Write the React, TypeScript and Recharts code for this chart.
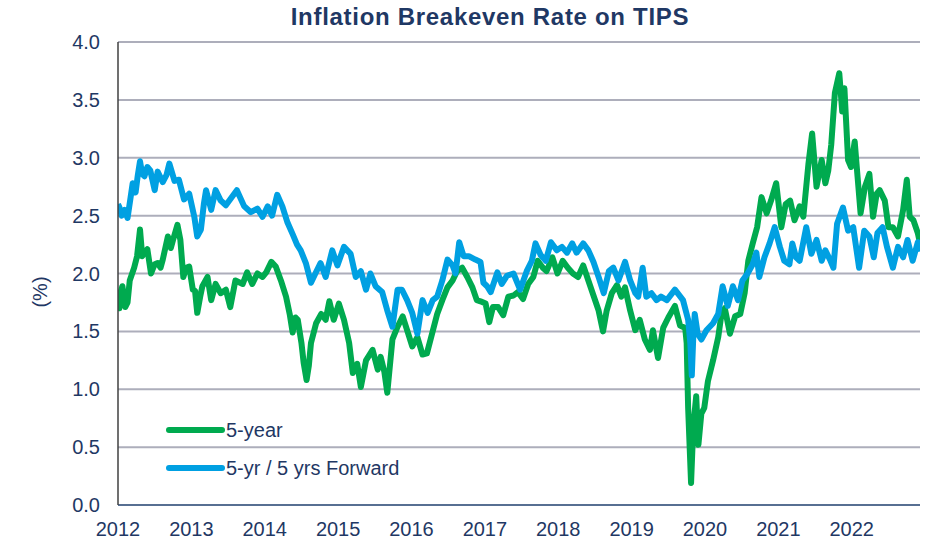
import { LineChart, Line, XAxis, YAxis, CartesianGrid, Legend } from 'recharts';

// [decimal year, %]
const fiveYear: [number, number][] = [
  [2012.0, 1.8], [2012.02, 1.7], [2012.04, 1.85], [2012.06, 1.89], [2012.1, 1.71], [2012.13, 1.75],
  [2012.16, 1.94], [2012.22, 2.05], [2012.26, 2.15], [2012.3, 2.38], [2012.33, 2.15], [2012.36, 2.18],
  [2012.4, 2.21], [2012.45, 2.0], [2012.5, 2.08], [2012.54, 2.09], [2012.58, 2.05], [2012.61, 2.12],
  [2012.68, 2.32], [2012.72, 2.22], [2012.75, 2.29], [2012.81, 2.42], [2012.85, 2.29], [2012.89, 1.97],
  [2012.93, 2.05], [2012.97, 2.06], [2013.02, 1.86], [2013.05, 1.85], [2013.08, 1.66], [2013.12, 1.8],
  [2013.15, 1.89], [2013.22, 1.97], [2013.27, 1.77], [2013.33, 1.91], [2013.4, 1.83], [2013.47, 1.86],
  [2013.53, 1.71], [2013.6, 1.94], [2013.7, 1.91], [2013.76, 2.01], [2013.83, 1.91], [2013.9, 2.0],
  [2013.97, 1.97], [2014.02, 2.01], [2014.09, 2.1], [2014.15, 2.06], [2014.22, 1.94], [2014.29, 1.8],
  [2014.34, 1.65], [2014.38, 1.49], [2014.42, 1.62], [2014.45, 1.6], [2014.5, 1.4], [2014.53, 1.23],
  [2014.57, 1.08], [2014.6, 1.2], [2014.63, 1.4], [2014.7, 1.57], [2014.77, 1.65], [2014.83, 1.6],
  [2014.88, 1.76], [2014.94, 1.6], [2015.01, 1.74], [2015.08, 1.6], [2015.15, 1.4], [2015.2, 1.14],
  [2015.26, 1.22], [2015.31, 1.02], [2015.38, 1.25], [2015.47, 1.34], [2015.54, 1.17], [2015.58, 1.28],
  [2015.63, 1.15], [2015.67, 0.97], [2015.74, 1.43], [2015.81, 1.54], [2015.88, 1.63], [2015.94, 1.51],
  [2016.01, 1.37], [2016.08, 1.45], [2016.15, 1.3], [2016.21, 1.31], [2016.28, 1.48], [2016.35, 1.65],
  [2016.42, 1.77], [2016.49, 1.88], [2016.56, 1.94], [2016.62, 2.02], [2016.69, 2.05], [2016.76, 1.97],
  [2016.83, 1.88], [2016.89, 1.77], [2016.94, 1.76], [2017.01, 1.74], [2017.06, 1.58], [2017.11, 1.71],
  [2017.18, 1.71], [2017.25, 1.64], [2017.32, 1.8], [2017.39, 1.81], [2017.45, 1.84], [2017.52, 1.78],
  [2017.59, 1.91], [2017.66, 1.97], [2017.72, 2.11], [2017.79, 2.05], [2017.84, 2.02], [2017.92, 2.14],
  [2017.99, 2.0], [2018.06, 2.11], [2018.13, 2.05], [2018.2, 2.0], [2018.27, 1.97], [2018.34, 2.07],
  [2018.41, 1.94], [2018.48, 1.81], [2018.55, 1.68], [2018.61, 1.5], [2018.66, 1.68], [2018.73, 1.83],
  [2018.8, 1.9], [2018.86, 1.8], [2018.91, 1.88], [2018.98, 1.68], [2019.05, 1.51], [2019.11, 1.6],
  [2019.18, 1.43], [2019.25, 1.34], [2019.29, 1.51], [2019.36, 1.27], [2019.43, 1.53], [2019.5, 1.62],
  [2019.59, 1.72], [2019.66, 1.55], [2019.73, 1.53], [2019.75, 1.4], [2019.77, 0.84], [2019.81, 0.19],
  [2019.84, 0.68], [2019.88, 0.94], [2019.91, 0.52], [2019.95, 0.79], [2019.99, 0.84], [2020.04, 1.07],
  [2020.11, 1.25], [2020.18, 1.45], [2020.22, 1.63], [2020.27, 1.7], [2020.34, 1.48], [2020.41, 1.63],
  [2020.48, 1.65], [2020.54, 1.83], [2020.59, 2.11], [2020.65, 2.26], [2020.71, 2.4], [2020.77, 2.66],
  [2020.84, 2.52], [2020.9, 2.63], [2020.97, 2.78], [2021.04, 2.4], [2021.1, 2.6], [2021.16, 2.63],
  [2021.22, 2.46], [2021.29, 2.58], [2021.34, 2.49], [2021.41, 2.95], [2021.46, 3.21], [2021.52, 2.75],
  [2021.59, 2.98], [2021.64, 2.78], [2021.68, 2.89], [2021.72, 3.11], [2021.77, 3.56], [2021.83, 3.73],
  [2021.87, 3.4], [2021.9, 3.6], [2021.95, 2.98], [2021.99, 2.92], [2022.04, 3.14], [2022.08, 2.83],
  [2022.12, 2.52], [2022.18, 2.75], [2022.24, 2.86], [2022.29, 2.49], [2022.34, 2.69], [2022.38, 2.72],
  [2022.45, 2.63], [2022.5, 2.4], [2022.56, 2.4], [2022.63, 2.32], [2022.7, 2.55], [2022.75, 2.81],
  [2022.79, 2.49], [2022.84, 2.46], [2022.9, 2.35], [2022.93, 2.26],
];

const fiveYrForward: [number, number][] = [
  [2012.0, 2.6], [2012.02, 2.57], [2012.05, 2.5], [2012.09, 2.55], [2012.13, 2.48], [2012.17, 2.65],
  [2012.2, 2.78], [2012.24, 2.7], [2012.27, 2.85], [2012.3, 2.97], [2012.33, 2.86], [2012.36, 2.84],
  [2012.4, 2.92], [2012.44, 2.89], [2012.5, 2.72], [2012.54, 2.88], [2012.61, 2.79], [2012.66, 2.85],
  [2012.7, 2.95], [2012.77, 2.8], [2012.83, 2.81], [2012.9, 2.64], [2012.97, 2.69], [2013.04, 2.49],
  [2013.08, 2.32], [2013.13, 2.38], [2013.17, 2.6], [2013.2, 2.72], [2013.27, 2.55], [2013.33, 2.72],
  [2013.4, 2.63], [2013.47, 2.59], [2013.54, 2.65], [2013.62, 2.72], [2013.72, 2.58], [2013.81, 2.53],
  [2013.9, 2.56], [2013.97, 2.49], [2014.04, 2.58], [2014.1, 2.5], [2014.17, 2.68], [2014.24, 2.58],
  [2014.31, 2.44], [2014.38, 2.34], [2014.44, 2.25], [2014.49, 2.2], [2014.56, 2.09], [2014.63, 1.92],
  [2014.69, 2.0], [2014.76, 2.09], [2014.83, 1.97], [2014.92, 2.2], [2014.99, 2.07], [2015.08, 2.23],
  [2015.17, 2.17], [2015.24, 1.97], [2015.31, 2.02], [2015.38, 1.86], [2015.44, 2.0], [2015.51, 1.89],
  [2015.6, 1.84], [2015.67, 1.68], [2015.74, 1.54], [2015.81, 1.86], [2015.87, 1.86], [2015.94, 1.77],
  [2016.01, 1.66], [2016.08, 1.48], [2016.15, 1.77], [2016.22, 1.66], [2016.29, 1.77], [2016.35, 1.8],
  [2016.42, 1.94], [2016.49, 2.12], [2016.56, 2.07], [2016.6, 2.0], [2016.65, 2.27], [2016.71, 2.15],
  [2016.78, 2.15], [2016.87, 2.12], [2016.94, 2.1], [2016.98, 1.92], [2017.03, 1.89], [2017.08, 1.84],
  [2017.17, 2.01], [2017.23, 1.91], [2017.3, 1.98], [2017.39, 2.0], [2017.48, 1.86], [2017.57, 2.02],
  [2017.64, 2.11], [2017.69, 2.26], [2017.76, 2.16], [2017.83, 2.11], [2017.9, 2.27], [2017.98, 2.2],
  [2018.05, 2.23], [2018.12, 2.18], [2018.19, 2.26], [2018.25, 2.18], [2018.34, 2.26], [2018.41, 2.2],
  [2018.48, 2.1], [2018.55, 1.97], [2018.62, 1.83], [2018.69, 2.02], [2018.75, 2.05], [2018.82, 1.94],
  [2018.91, 2.1], [2018.98, 1.94], [2019.05, 1.83], [2019.09, 1.8], [2019.15, 2.05], [2019.2, 1.8],
  [2019.27, 1.83], [2019.34, 1.77], [2019.4, 1.8], [2019.48, 1.77], [2019.59, 1.86], [2019.7, 1.77],
  [2019.77, 1.6], [2019.8, 1.4], [2019.82, 1.12], [2019.84, 1.45], [2019.86, 1.65], [2019.9, 1.48],
  [2019.95, 1.43], [2020.02, 1.51], [2020.11, 1.57], [2020.18, 1.65], [2020.24, 1.89], [2020.31, 1.72],
  [2020.38, 1.89], [2020.45, 1.77], [2020.51, 1.94], [2020.58, 2.0], [2020.65, 2.08], [2020.7, 2.18],
  [2020.74, 1.97], [2020.81, 2.14], [2020.88, 2.26], [2020.95, 2.4], [2021.02, 2.23], [2021.08, 2.11],
  [2021.15, 2.08], [2021.19, 2.26], [2021.24, 2.14], [2021.29, 2.11], [2021.38, 2.4], [2021.45, 2.17],
  [2021.52, 2.29], [2021.59, 2.11], [2021.64, 2.2], [2021.71, 2.11], [2021.75, 2.05], [2021.8, 2.43],
  [2021.88, 2.57], [2021.95, 2.37], [2022.02, 2.4], [2022.1, 2.05], [2022.17, 2.37], [2022.24, 2.32],
  [2022.3, 2.14], [2022.35, 2.35], [2022.42, 2.4], [2022.48, 2.23], [2022.56, 2.05], [2022.63, 2.23],
  [2022.7, 2.14], [2022.76, 2.29], [2022.83, 2.11], [2022.9, 2.27], [2022.93, 2.19],
];

const yearTicks = [2012, 2013, 2014, 2015, 2016, 2017, 2018, 2019, 2020, 2021, 2022];
const rateTicks = [0, 0.5, 1, 1.5, 2, 2.5, 3, 3.5, 4];

const NAVY = '#1F3864';
const GREEN = '#00AA4F';
const BLUE = '#00A0E2';
const FONT = '"Liberation Sans", Arial, sans-serif';

const legendItems = [
  { name: '5-year', color: GREEN },
  { name: '5-yr / 5 yrs Forward', color: BLUE },
];

const LegendBox = () => (
  <div style={{ fontFamily: FONT }}>
    {legendItems.map((it) => (
      <div key={it.name} style={{ display: 'flex', alignItems: 'center', height: 38 }}>
        <svg width={62} height={10}>
          <line x1={5} y1={5} x2={58} y2={5} stroke={it.color} strokeWidth={6} strokeLinecap="round" />
        </svg>
        <span style={{ fontSize: 20, color: NAVY }}>{it.name}</span>
      </div>
    ))}
  </div>
);

export default function App() {
  const green = fiveYear.map(([t, v]) => ({ t, v }));
  const blue = fiveYrForward.map(([t, v]) => ({ t, v }));

  return (
    <div style={{ position: 'absolute', left: 0, top: 0, width: 926, height: 543, background: '#fff', fontFamily: FONT }}>
      <div style={{
        position: 'absolute', top: 3, left: 288, width: 404, textAlign: 'center',
        fontSize: 24, fontWeight: 'bold', color: NAVY, letterSpacing: 0.7, whiteSpace: 'nowrap',
      }}>
        Inflation Breakeven Rate on TIPS
      </div>
      <div style={{
        position: 'absolute', left: 40, top: 292, transform: 'translate(-50%, -50%) rotate(-90deg)',
        fontSize: 20, color: NAVY, whiteSpace: 'nowrap',
      }}>
        (%)
      </div>
      <LineChart width={926} height={543} margin={{ top: 42, right: 6, bottom: 0, left: 0 }}>
        <CartesianGrid vertical={false} stroke="#ADAEBB" strokeWidth={2} />
        <XAxis
          type="number"
          dataKey="t"
          domain={[2012, 2022.93]}
          ticks={yearTicks}
          allowDataOverflow
          height={38}
          tickLine={false}
          tickSize={6}
          tickMargin={11}
          axisLine={{ stroke: '#3B5A85', strokeWidth: 1.5 }}
          tick={{ fill: NAVY, fontSize: 20, fontFamily: FONT }}
        />
        <YAxis
          type="number"
          domain={[0, 4]}
          ticks={rateTicks}
          width={118}
          tickLine={false}
          tickSize={6}
          tickMargin={12}
          tickFormatter={(v: number) => v.toFixed(1)}
          axisLine={{ stroke: '#404040', strokeWidth: 1.5 }}
          tick={{ fill: NAVY, fontSize: 20, fontFamily: FONT }}
        />
        <Legend
          layout="vertical"
          align="center"
          verticalAlign="middle"
          content={<LegendBox />}
          wrapperStyle={{ left: 164, top: 411, width: 300 }}
        />
        <Line data={green} dataKey="v" name="5-year" stroke={GREEN} strokeWidth={6} dot={false}
          strokeLinejoin="round" isAnimationActive={false} />
        <Line data={blue} dataKey="v" name="5-yr / 5 yrs Forward" stroke={BLUE} strokeWidth={6} dot={false}
          strokeLinejoin="round" isAnimationActive={false} />
      </LineChart>
    </div>
  );
}
